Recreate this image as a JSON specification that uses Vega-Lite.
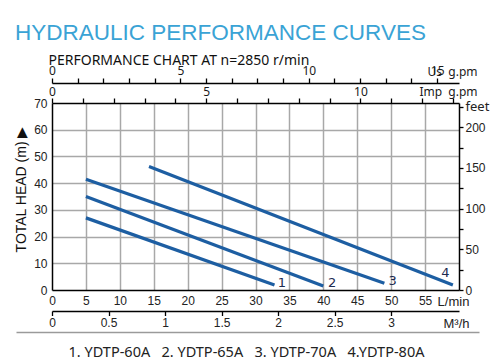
{
  "$schema": "https://vega.github.io/schema/vega-lite/v6.json",
  "width": 407,
  "height": 187,
  "autosize": {"type": "none"},
  "padding": {"left": 52, "top": 103, "right": 37, "bottom": 74},
  "background": "white",
  "title": {
    "text": "HYDRAULIC PERFORMANCE CURVES",
    "anchor": "start",
    "frame": "group",
    "dx": -37,
    "offset": 9,
    "font": "Liberation Sans",
    "fontSize": 22.5,
    "fontWeight": "normal",
    "color": "#3aa3d5"
  },
  "datasets": {
    "curves": [
      {"model": "1", "flow": 5, "head": 27},
      {"model": "1", "flow": 32.8, "head": 1.9},
      {"model": "2", "flow": 5, "head": 35},
      {"model": "2", "flow": 40, "head": 1.5},
      {"model": "3", "flow": 5, "head": 41.5},
      {"model": "3", "flow": 49, "head": 2.5},
      {"model": "4", "flow": 14.3, "head": 46.2},
      {"model": "4", "flow": 59.1, "head": 1.9}
    ],
    "labels": [
      {"model": "1", "flow": 33.9, "head": 2.8},
      {"model": "2", "flow": 41.3, "head": 2.8},
      {"model": "3", "flow": 50.2, "head": 3.3},
      {"model": "4", "flow": 58.0, "head": 6.4}
    ],
    "helper": [{"id": 0}]
  },
  "layer": [
    {
      "data": {"name": "curves"},
      "mark": {"type": "line", "color": "#1d5ea2", "strokeWidth": 3.2, "strokeCap": "butt"},
      "encoding": {
        "x": {
          "field": "flow", "type": "quantitative",
          "scale": {"domain": [0, 60], "nice": false, "zero": false},
          "axis": {
            "orient": "bottom",
            "values": [0, 5, 10, 15, 20, 25, 30, 35, 40, 45, 50, 55],
            "ticks": false,
            "domainColor": "#000000", "domainWidth": 1.5,
            "labelFont": "Liberation Sans", "labelFontSize": 12, "labelColor": "#222222",
            "labelPadding": 5, "labelFlush": false, "labelOverlap": false,
            "grid": true, "gridColor": "#a8a8a8", "gridWidth": 1.5,
            "gridOpacity": {"condition": {"test": "datum.value === 0", "value": 0}, "value": 1},
            "title": "L/min", "titleX": 401, "titleY": 15, "titleAlign": "center", "titleBaseline": "alphabetic",
            "titleFont": "Liberation Sans", "titleFontSize": 13, "titleFontWeight": "normal", "titleColor": "#222222"
          }
        },
        "y": {
          "field": "head", "type": "quantitative",
          "scale": {"domain": [0, 70], "nice": false, "zero": false},
          "axis": {
            "orient": "left",
            "values": [0, 10, 20, 30, 40, 50, 60, 70],
            "ticks": false,
            "domainColor": "#000000", "domainWidth": 1.5,
            "labelFont": "Liberation Sans", "labelFontSize": 12, "labelColor": "#222222",
            "labelPadding": 5, "labelFlush": false, "labelOverlap": false,
            "grid": true, "gridColor": "#a8a8a8", "gridWidth": 1.5,
            "gridOpacity": {"condition": {"test": "datum.value === 0 || datum.value === 70", "value": 0}, "value": 1},
            "title": "TOTAL HEAD (m) \u25b6", "titleX": -31, "titleY": 86, "titleAngle": 270,
            "titleAlign": "center", "titleBaseline": "middle",
            "titleFont": "Liberation Sans", "titleFontSize": 14, "titleFontWeight": "normal", "titleColor": "#111111"
          }
        },
        "detail": {"field": "model", "type": "nominal"}
      }
    },
    {
      "data": {"name": "labels"},
      "mark": {"type": "text", "font": "DejaVu Sans", "fontSize": 13, "color": "#1d2b4f", "align": "center", "baseline": "middle"},
      "encoding": {
        "x": {"field": "flow", "type": "quantitative", "scale": {"domain": [0, 60], "nice": false, "zero": false}, "axis": null},
        "y": {"field": "head", "type": "quantitative", "scale": {"domain": [0, 70], "nice": false, "zero": false}, "axis": null},
        "text": {"field": "model", "type": "nominal"}
      }
    },
    {
      "data": {"name": "helper"},
      "mark": {"type": "point", "opacity": 0},
      "encoding": {
        "x": {
          "datum": 0, "type": "quantitative",
          "scale": {"domain": [0, 15.85], "nice": false, "zero": false},
          "axis": {
            "orient": "top", "offset": 20,
            "values": [0, 1, 2, 3, 4, 5, 6, 7, 8, 9, 10, 11, 12, 13, 14, 15],
            "tickSize": 5, "tickColor": "#000000", "tickWidth": 1.3,
            "domainColor": "#000000", "domainWidth": 1.5,
            "labelExpr": "datum.value % 5 === 0 ? datum.label : ''",
            "labelFont": "Noto Sans", "labelFontSize": 12, "labelColor": "#1a1a1a",
            "labelPadding": 1, "labelFlush": false, "labelOverlap": false,
            "grid": false,
            "title": "Us\u00a0\u00a0g.pm", "titleX": 425, "titleY": -8, "titleAlign": "right", "titleBaseline": "alphabetic",
            "titleFont": "Noto Sans", "titleFontSize": 12, "titleFontWeight": "normal", "titleColor": "#1a1a1a"
          }
        }
      }
    },
    {
      "data": {"name": "helper"},
      "mark": {"type": "point", "opacity": 0},
      "encoding": {
        "x": {
          "datum": 0, "type": "quantitative",
          "scale": {"domain": [0, 13.198], "nice": false, "zero": false},
          "axis": {
            "orient": "top", "offset": 0,
            "values": [0, 1, 2, 3, 4, 5, 6, 7, 8, 9, 10, 11, 12, 13],
            "tickSize": 5, "tickColor": "#000000", "tickWidth": 1.3,
            "domainColor": "#000000", "domainWidth": 1.5,
            "labelExpr": "datum.value % 5 === 0 ? datum.label : ''",
            "labelFont": "Noto Sans", "labelFontSize": 12, "labelColor": "#1a1a1a",
            "labelPadding": 0, "labelFlush": false, "labelOverlap": false,
            "grid": false,
            "title": "Imp\u00a0\u00a0g.pm", "titleX": 425, "titleY": -7.5, "titleAlign": "right", "titleBaseline": "alphabetic",
            "titleFont": "Noto Sans", "titleFontSize": 12, "titleFontWeight": "normal", "titleColor": "#1a1a1a"
          }
        }
      }
    },
    {
      "data": {"name": "helper"},
      "mark": {"type": "point", "opacity": 0},
      "encoding": {
        "x": {
          "datum": 0, "type": "quantitative",
          "scale": {"domain": [0, 3.6], "nice": false, "zero": false},
          "axis": {
            "orient": "bottom", "offset": 21,
            "values": [0, 0.5, 1, 1.5, 2, 2.5, 3],
            "format": "~g",
            "tickSize": 4.5, "tickColor": "#000000", "tickWidth": 1.3,
            "domainColor": "#000000", "domainWidth": 1.5,
            "labelFont": "Liberation Sans", "labelFontSize": 12, "labelColor": "#222222",
            "labelPadding": 2, "labelFlush": false, "labelOverlap": false,
            "grid": false,
            "title": "M\u00b3/h", "titleX": 404, "titleY": 16, "titleAlign": "center", "titleBaseline": "alphabetic",
            "titleFont": "Liberation Sans", "titleFontSize": 13, "titleFontWeight": "normal", "titleColor": "#222222"
          }
        }
      }
    },
    {
      "data": {"name": "helper"},
      "mark": {"type": "point", "opacity": 0},
      "encoding": {
        "x": {
          "datum": 0, "type": "quantitative",
          "scale": {"domain": [0, 1], "nice": false, "zero": false, "range": [-36, 427]},
          "axis": {
            "orient": "bottom", "offset": 42,
            "ticks": false, "labels": false, "grid": false,
            "domainColor": "#9a9a9a", "domainWidth": 1.5,
            "title": "1. YDTP-60A\u00a0\u00a0\u00a02. YDTP-65A\u00a0\u00a0\u00a03. YDTP-70A\u00a0\u00a0\u00a04.YDTP-80A",
            "titleX": 194, "titleY": 24, "titleAlign": "center", "titleBaseline": "alphabetic",
            "titleFont": "Noto Sans", "titleFontSize": 14.5, "titleFontWeight": "normal", "titleColor": "#222222"
          }
        }
      }
    },
    {
      "data": {"name": "helper"},
      "mark": {"type": "point", "opacity": 0},
      "encoding": {
        "x": {
          "datum": 0, "type": "quantitative",
          "scale": {"domain": [0, 1], "nice": false, "zero": false},
          "axis": {
            "orient": "top", "offset": 20,
            "domain": false, "ticks": false, "labels": false, "grid": false,
            "title": "PERFORMANCE CHART AT n=2850 r/min",
            "titleX": -4, "titleY": -18.3, "titleAlign": "left", "titleBaseline": "alphabetic",
            "titleFont": "Noto Sans", "titleFontSize": 14, "titleFontWeight": "normal", "titleColor": "#111111"
          }
        }
      }
    },
    {
      "data": {"name": "helper"},
      "mark": {"type": "point", "opacity": 0},
      "encoding": {
        "y": {
          "datum": 0, "type": "quantitative",
          "scale": {"domain": [0, 229.66], "nice": false, "zero": false},
          "axis": {
            "orient": "right",
            "values": [0, 25, 50, 75, 100, 125, 150, 175, 200, 225],
            "tickSize": 4, "tickColor": "#000000", "tickWidth": 1.3,
            "domainColor": "#000000", "domainWidth": 1.5,
            "labelExpr": "datum.value === 225 ? 'feet' : (datum.value % 50 === 0 ? datum.label : '')",
            "labelFont": {"condition": {"test": "datum.value === 225", "value": "Noto Sans"}, "value": "Liberation Sans"},
            "labelFontSize": {"condition": {"test": "datum.value === 225", "value": 13}, "value": 12},
            "labelColor": "#222222",
            "labelPadding": 2, "labelFlush": false, "labelOverlap": false, "labelBaseline": "middle",
            "grid": false,
            "title": null
          }
        }
      }
    }
  ],
  "resolve": {"scale": {"x": "independent", "y": "independent"}},
  "config": {"view": {"stroke": null}}
}
